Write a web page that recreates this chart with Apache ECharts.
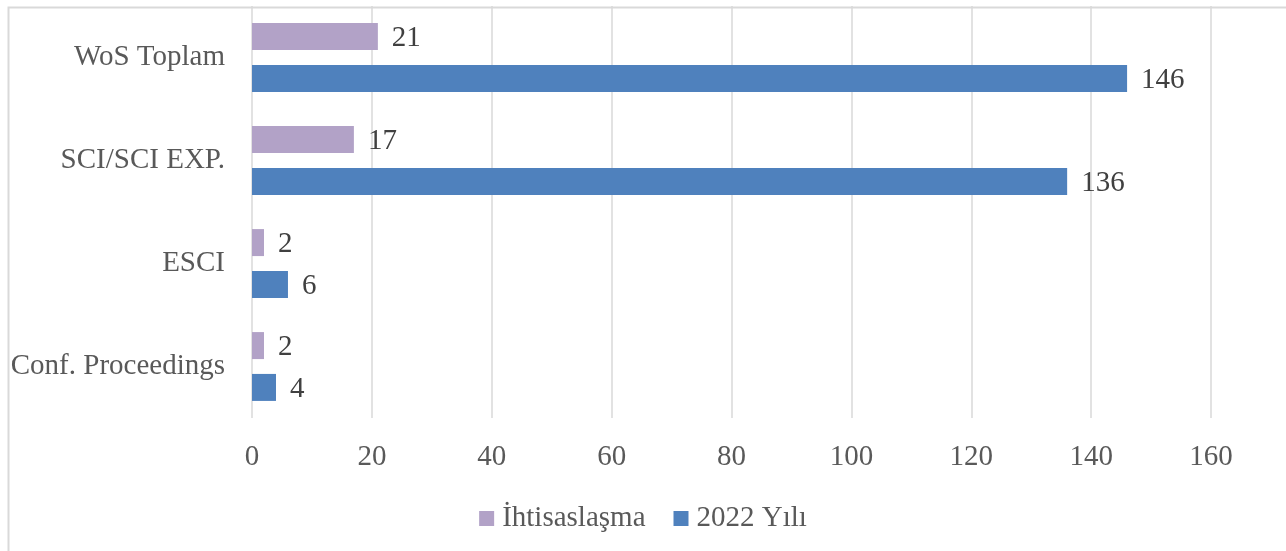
<!DOCTYPE html>
<html>
<head>
<meta charset="utf-8">
<script src="https://cdn.jsdelivr.net/npm/echarts@6/dist/echarts.min.js"></script>
<style>
html,body{margin:0;padding:0;background:#fff;}
#chart{width:1286px;height:551px;}
</style>
</head>
<body>
<div id="chart"></div>
<script>
const categories = ['Conf. Proceedings', 'ESCI', 'SCI/SCI EXP.', 'WoS Toplam'];
const seriesNames = ['İhtisaslaşma', '2022 Yılı'];
const ihtisaslasma = [2, 2, 17, 21];
const yil2022 = [4, 6, 136, 146];
const xTicks = { min: 0, max: 160, interval: 20 };

const FONT = '"Liberation Serif", "DejaVu Serif", serif';
const chart = echarts.init(document.getElementById('chart'), null, { renderer: 'canvas' });

const labelStyle = {
  show: true,
  position: 'right',
  distance: 14,
  offset: [0, 2],
  color: '#404040',
  fontFamily: FONT,
  fontSize: 29
};

chart.setOption({
  animation: false,
  backgroundColor: '#ffffff',
  graphic: [{
    type: 'rect',
    left: 6, top: 5,
    shape: { width: 1400, height: 700 },
    style: { fill: 'none', stroke: '#d9d9d9', lineWidth: 2 },
    silent: true,
    z: -10
  }],
  grid: { left: 252, right: 75, top: 6, bottom: 133, containLabel: false },
  legend: {
    data: seriesNames,
    bottom: 13,
    left: 'center',
    itemWidth: 15,
    itemHeight: 15,
    itemGap: 28,
    icon: 'rect',
    textStyle: { color: '#595959', fontFamily: FONT, fontSize: 29, padding: [0, 0, 0, 3] }
  },
  xAxis: {
    type: 'value',
    min: xTicks.min,
    max: xTicks.max,
    interval: xTicks.interval,
    axisLine: { show: false },
    axisTick: { show: false },
    splitLine: { show: true, lineStyle: { color: '#d9d9d9', width: 1.5 } },
    axisLabel: { color: '#595959', fontFamily: FONT, fontSize: 29, margin: 25 }
  },
  yAxis: {
    type: 'category',
    data: categories,
    axisLine: { show: false },
    axisTick: { show: false },
    splitLine: { show: false },
    axisLabel: { color: '#595959', fontFamily: FONT, fontSize: 29, margin: 27, padding: [4, 0, 0, 0] }
  },
  series: [
    {
      name: seriesNames[0],
      type: 'bar',
      data: ihtisaslasma,
      barWidth: 27,
      barGap: '55%',
      itemStyle: { color: '#b2a2c7' },
      label: labelStyle
    },
    {
      name: seriesNames[1],
      type: 'bar',
      data: yil2022,
      barWidth: 27,
      barGap: '55%',
      itemStyle: { color: '#4f81bd' },
      label: labelStyle
    }
  ]
});
</script>
</body>
</html>
